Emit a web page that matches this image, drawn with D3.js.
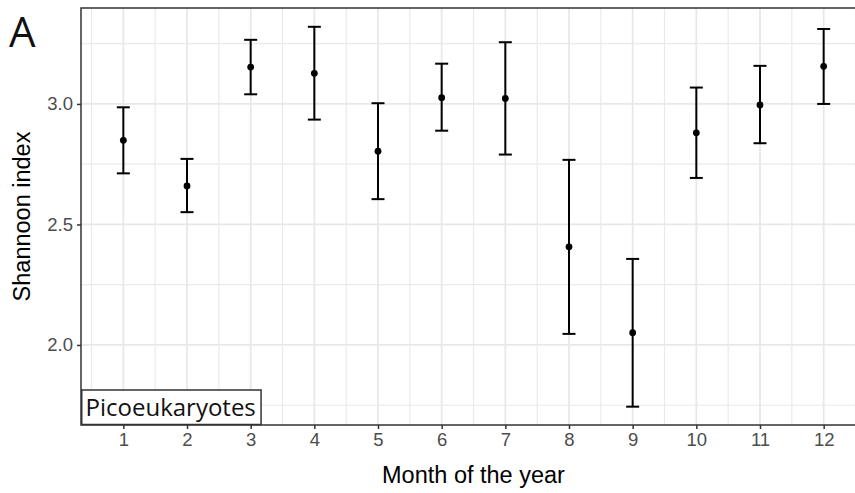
<!DOCTYPE html>
<html>
<head>
<meta charset="utf-8">
<script src="https://cdn.jsdelivr.net/npm/d3@7"></script>
<style>
  html, body { margin: 0; padding: 0; background: #fff; }
  svg { display: block; }
</style>
</head>
<body>
<svg id="chart" width="855" height="493"></svg>
<script>
// Monthly Shannon diversity of picoeukaryotes: mean with lower/upper error bounds
const months = [1, 2, 3, 4, 5, 6, 7, 8, 9, 10, 11, 12];
const meanValues  = [2.849, 2.660, 3.153, 3.127, 2.804, 3.026, 3.023, 2.407, 2.051, 2.880, 2.996, 3.156];
const lowerValues = [2.712, 2.551, 3.040, 2.935, 2.605, 2.889, 2.790, 2.046, 1.744, 2.693, 2.837, 3.000];
const upperValues = [2.986, 2.772, 3.266, 3.320, 3.003, 3.167, 3.256, 2.768, 2.357, 3.068, 3.158, 3.311];
const yTicks = [2.0, 2.5, 3.0];
const yMinorTicks = [1.75, 2.25, 2.75, 3.25];
const xMinorTicks = [0.5, 1.5, 2.5, 3.5, 4.5, 5.5, 6.5, 7.5, 8.5, 9.5, 10.5, 11.5, 12.5];
const panelLabel = "A";
const groupLabel = "Picoeukaryotes";
const xTitle = "Month of the year";
const yTitle = "Shannoon index";

const svg = d3.select("#chart");
const panel = { left: 81, top: 8, right: 866, bottom: 425 };

const x = d3.scaleLinear().domain([0.335, 12.665]).range([panel.left, panel.right]);
const y = d3.scaleLinear().domain([1.668, 3.398]).range([panel.bottom, panel.top]);

const axisFont = "'Liberation Sans', Arial, Helvetica, sans-serif";

svg.append("defs").append("clipPath").attr("id", "panel-clip")
  .append("rect")
  .attr("x", panel.left).attr("y", panel.top)
  .attr("width", panel.right - panel.left).attr("height", panel.bottom - panel.top);

const grid = svg.append("g").attr("clip-path", "url(#panel-clip)");

// minor grid
grid.selectAll("line.ymin").data(yMinorTicks).join("line")
  .attr("x1", panel.left).attr("x2", panel.right)
  .attr("y1", d => y(d)).attr("y2", d => y(d))
  .attr("stroke", "#EAEAEA").attr("stroke-width", 1.2);
grid.selectAll("line.xmin").data(xMinorTicks).join("line")
  .attr("y1", panel.top).attr("y2", panel.bottom)
  .attr("x1", d => x(d)).attr("x2", d => x(d))
  .attr("stroke", "#EAEAEA").attr("stroke-width", 1.2);

// major grid
grid.selectAll("line.ymaj").data(yTicks).join("line")
  .attr("x1", panel.left).attr("x2", panel.right)
  .attr("y1", d => y(d)).attr("y2", d => y(d))
  .attr("stroke", "#E8E8E8").attr("stroke-width", 1.8);
grid.selectAll("line.xmaj").data(months).join("line")
  .attr("y1", panel.top).attr("y2", panel.bottom)
  .attr("x1", d => x(d)).attr("x2", d => x(d))
  .attr("stroke", "#E8E8E8").attr("stroke-width", 1.8);

// error bars
const data = months.map((m, i) => ({ m, mean: meanValues[i], lo: lowerValues[i], hi: upperValues[i] }));
const bars = svg.append("g");
const capHalf = 6.5;
bars.selectAll("line.stem").data(data).join("line")
  .attr("x1", d => x(d.m)).attr("x2", d => x(d.m))
  .attr("y1", d => y(d.lo)).attr("y2", d => y(d.hi))
  .attr("stroke", "#000").attr("stroke-width", 2);
bars.selectAll("line.capHi").data(data).join("line")
  .attr("x1", d => x(d.m) - capHalf).attr("x2", d => x(d.m) + capHalf)
  .attr("y1", d => y(d.hi)).attr("y2", d => y(d.hi))
  .attr("stroke", "#000").attr("stroke-width", 2);
bars.selectAll("line.capLo").data(data).join("line")
  .attr("x1", d => x(d.m) - capHalf).attr("x2", d => x(d.m) + capHalf)
  .attr("y1", d => y(d.lo)).attr("y2", d => y(d.lo))
  .attr("stroke", "#000").attr("stroke-width", 2);
bars.selectAll("circle").data(data).join("circle")
  .attr("cx", d => x(d.m)).attr("cy", d => y(d.mean)).attr("r", 3.4)
  .attr("fill", "#000");

// panel border
svg.append("rect")
  .attr("x", panel.left).attr("y", panel.top)
  .attr("width", panel.right - panel.left).attr("height", panel.bottom - panel.top)
  .attr("fill", "none").attr("stroke", "#333333").attr("stroke-width", 1.5);

// axes
const xAxis = svg.append("g").attr("transform", `translate(0,${panel.bottom})`)
  .call(d3.axisBottom(x).tickValues(months).tickFormat(d3.format("d")).tickSize(4).tickPadding(4));
const yAxis = svg.append("g").attr("transform", `translate(${panel.left},0)`)
  .call(d3.axisLeft(y).tickValues(yTicks).tickFormat(d3.format(".1f")).tickSize(4).tickPadding(4));
[xAxis, yAxis].forEach(g => {
  g.select(".domain").remove();
  g.selectAll(".tick line").attr("stroke", "#333333").attr("stroke-width", 1.5);
  g.selectAll(".tick text").attr("fill", "#4D4D4D")
    .style("font-family", axisFont).style("font-size", "18.5px");
});
xAxis.selectAll(".tick text").attr("dy", null).attr("y", 21);

// axis titles
svg.append("text")
  .attr("x", (panel.left + panel.right) / 2).attr("y", 483)
  .attr("text-anchor", "middle")
  .style("font-family", axisFont).style("font-size", "23.5px").attr("fill", "#000")
  .text(xTitle);
svg.append("text")
  .attr("transform", `translate(30,${(panel.top + panel.bottom) / 2}) rotate(-90)`)
  .attr("text-anchor", "middle")
  .style("font-family", axisFont).style("font-size", "23.5px").attr("fill", "#000")
  .text(yTitle);

// panel tag
svg.append("text")
  .attr("x", 9).attr("y", 47)
  .style("font-family", "'Open Sans', sans-serif").style("font-size", "42px").attr("fill", "#111")
  .text(panelLabel);

// group label box in the lower-left corner
const labelG = svg.append("g");
const labelText = labelG.append("text")
  .attr("x", panel.left + 4.5).attr("y", 416)
  .style("font-family", "'Open Sans', sans-serif").style("font-size", "24px").attr("fill", "#111")
  .text(groupLabel);
const tw = labelText.node().getComputedTextLength();
labelG.insert("rect", "text")
  .attr("x", panel.left + 0.75).attr("y", 390)
  .attr("width", tw + 9).attr("height", 34.5)
  .attr("fill", "#fff").attr("stroke", "#333333").attr("stroke-width", 1.5);
</script>
</body>
</html>
